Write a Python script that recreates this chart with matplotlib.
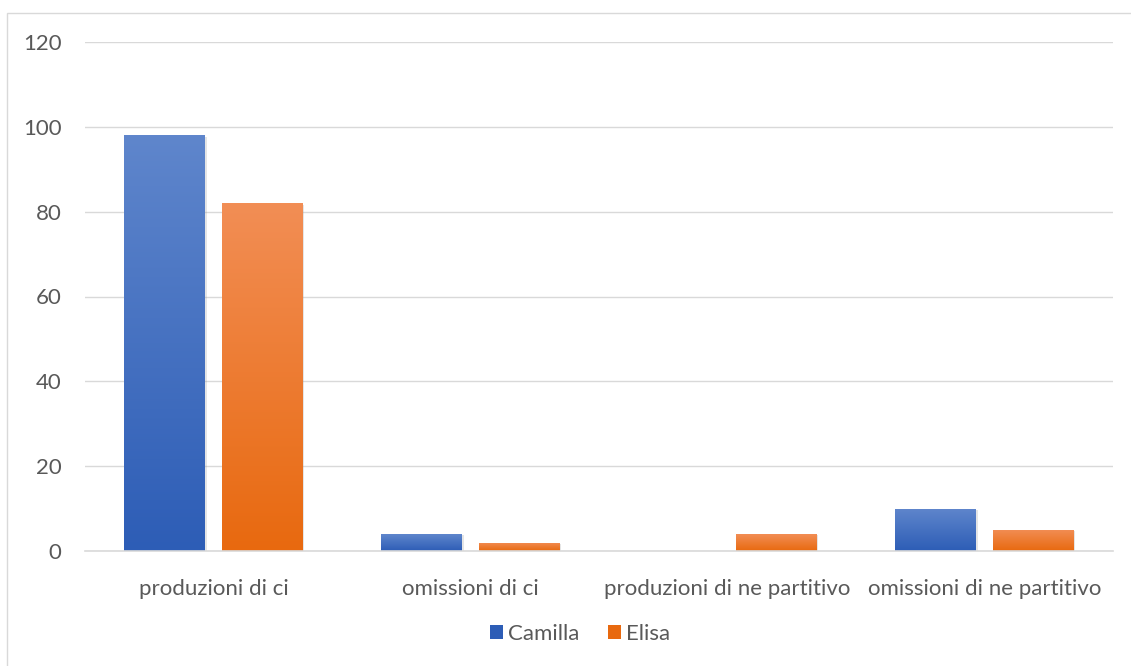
import matplotlib
matplotlib.use("Agg")
import matplotlib.pyplot as plt
import matplotlib.patheffects as pe
from matplotlib.patches import Rectangle, Patch
import numpy as np

categories = ["produzioni di ci", "omissioni di ci", "produzioni di ne partitivo", "omissioni di ne partitivo"]
camilla = [98, 4, 0, 10]
elisa = [82, 2, 4, 5]
y_ticks = [0, 20, 40, 60, 80, 100, 120]

BLUE_TOP, BLUE_BOT = "#5F86CC", "#2D5DB6"
ORANGE_TOP, ORANGE_BOT = "#F28E55", "#E8690F"
GRID = "#D9D9D9"
TEXT = "#595959"

plt.rcParams["font.family"] = ["Lato", "DejaVu Sans"]

W, H = 1131, 666
fig = plt.figure(figsize=(W / 100, H / 100), dpi=100, facecolor="white")
ax = fig.add_axes([85 / W, 1 - 551 / H, (1113 - 85) / W, (551 - 42) / H])

# chart border (cut off at right and bottom like the source)
fig.patches.append(Rectangle((7 / W, -0.05), 1.1, 1 - 13 / H + 0.05, transform=fig.transFigure,
                             fill=False, edgecolor=GRID, linewidth=1.0))


def gradient(top, bot):
    c1 = np.array(matplotlib.colors.to_rgb(top))
    c2 = np.array(matplotlib.colors.to_rgb(bot))
    t = np.linspace(0, 1, 256)[:, None]
    return (c1 * (1 - t) + c2 * t)[:, None, :]


x = np.arange(len(categories))
width = 0.315
off = 0.19
series = [(camilla, -off, BLUE_TOP, BLUE_BOT, "Camilla"), (elisa, off, ORANGE_TOP, ORANGE_BOT, "Elisa")]
handles = []
for vals, dx, top, bot, name in series:
    bars = ax.bar(x + dx, vals, width, color="white", zorder=3,
                  path_effects=[pe.SimplePatchShadow(offset=(1, -1), shadow_rgbFace="#999999", alpha=0.25),
                                pe.Normal()])
    img = gradient(top, bot)
    for b in bars:
        h = b.get_height()
        if h <= 0:
            continue
        im = ax.imshow(img, extent=[b.get_x(), b.get_x() + b.get_width(), 0, h],
                       aspect="auto", zorder=4, interpolation="bilinear")
        im.set_clip_path(b)
    handles.append(Patch(facecolor=bot, label=name))

ax.set_xlim(-0.5, 3.5)
ax.set_ylim(0, 120)
ax.set_yticks(y_ticks)
ax.set_xticks(x)
ax.set_xticklabels(categories)
ax.yaxis.grid(True, color=GRID, linewidth=1.0, zorder=0)
ax.set_axisbelow(True)
for s in ["top", "right", "left"]:
    ax.spines[s].set_visible(False)
ax.spines["bottom"].set_color(GRID)
ax.spines["bottom"].set_linewidth(1.2)
ax.spines["bottom"].set_zorder(5)
ax.tick_params(axis="both", length=0, colors=TEXT, labelsize=16)
ax.tick_params(axis="y", pad=17)
ax.tick_params(axis="x", pad=20)

fig.legend(handles=handles, loc="center", bbox_to_anchor=(580 / W, 1 - 634 / H), ncol=2,
           frameon=False, fontsize=16, labelcolor=TEXT, handlelength=0.6, handleheight=0.6,
           handletextpad=0.2, columnspacing=1.3)

fig.savefig("out.png", dpi=100, facecolor="white")
